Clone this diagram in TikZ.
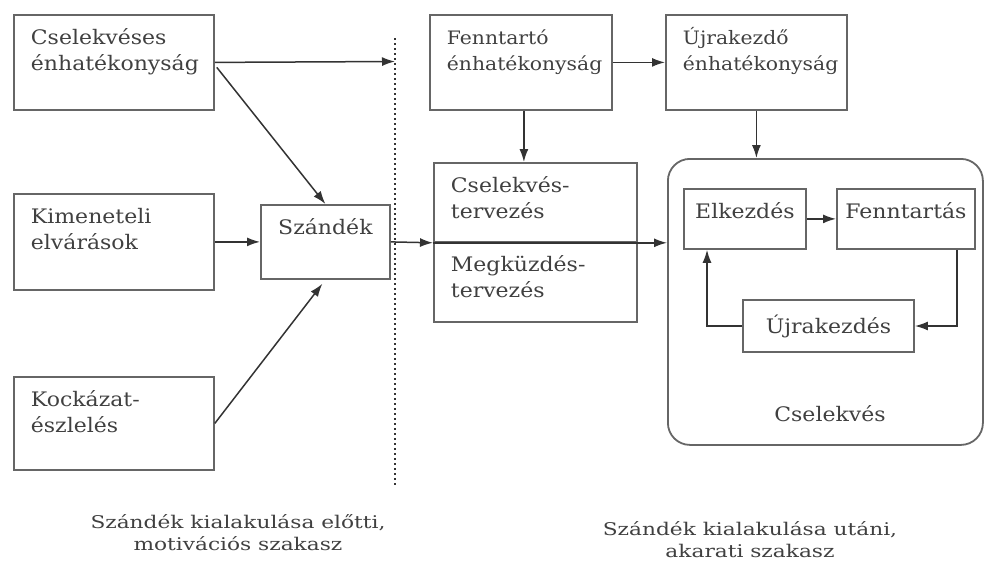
\documentclass[tikz,border=0pt]{standalone}
\usepackage{fontspec}
\setmainfont{DejaVu Serif}[FakeStretch=1.1]
\newfontfamily\captionfont{DejaVu Serif}[FakeStretch=1.24]
\usetikzlibrary{arrows.meta,calc}

\definecolor{ink}{HTML}{404040}
\definecolor{frame}{HTML}{666666}
\definecolor{wire}{HTML}{333333}

% text set at the top of a box of given outer width/height (in pt)
\newcommand\lefttext[3]{\parbox[c][\dimexpr#2pt-20pt\relax][t]{\dimexpr#1pt-34pt\relax}{%
  \raggedright\baselineskip=26pt\rule{0pt}{20pt}#3}}
\newcommand\midtext[3]{\parbox[c][\dimexpr#2pt-20pt\relax][t]{\dimexpr#1pt-8pt\relax}{%
  \centering\baselineskip=26pt\rule{0pt}{20pt}#3}}

\begin{document}
\begin{tikzpicture}[x=1pt,y=-1pt,
  every node/.style={text=ink, font=\fontsize{20}{26}\selectfont},
  lbox/.style={draw=frame, line width=1.8pt, anchor=north west, inner xsep=17pt, inner ysep=10pt},
  nbox/.style={lbox, font=\fontsize{18.5}{26}\selectfont},
  cbox/.style={draw=frame, line width=1.8pt, anchor=north west, inner xsep=4pt, inner ysep=10pt},
  arr/.style={draw=wire, line width=1.5pt, -{Latex[length=13pt,width=9pt]}},
  divider/.style={draw=wire, line width=1.5pt, dash pattern=on 1.5pt off 3.5pt},
  phase/.style={align=center, font=\captionfont\fontsize{17.5}{22}\selectfont}]
\useasboundingbox (0,0) rectangle (984,565);

% motivational phase
\node[lbox] (A) at (13,14)  {\lefttext{200}{95}{Cselekvéses\\énhatékonyság}};
\node[lbox] (B) at (13,193) {\lefttext{200}{96}{Kimeneteli\\elvárások}};
\node[lbox] (C) at (13,376) {\lefttext{200}{93}{Kockázat-\\észlelés}};
\node[cbox] (D) at (260,204) {\midtext{129}{74}{Szándék}};

% phase divider
\coordinate (dtop) at (395,38);
\coordinate (dbot) at (395,488);
\coordinate (dA) at (395,61.5);
\draw[divider] (dtop) -- (dbot);

% volitional phase
\node[nbox] (E) at (429,14)  {\lefttext{182}{95}{Fenntartó\\énhatékonyság}};
\node[nbox] (F) at (665,14)  {\lefttext{181}{95}{Újrakezdő\\énhatékonyság}};
\node[lbox] (G) at (433,162) {\lefttext{203}{79}{Cselekvés-\\tervezés}};
\node[lbox] (H) at (433,241) {\lefttext{203}{80}{Megküzdés-\\tervezés}};

\node[draw=frame, line width=1.8pt, rounded corners=22pt, anchor=north west,
      minimum width=315pt, minimum height=286pt, inner sep=0pt] (I) at (667,158) {};
\node[cbox] (J) at (683,188) {\midtext{122}{60}{Elkezdés}};
\node[cbox] (K) at (836,188) {\midtext{138}{60}{Fenntartás}};
\node[draw=frame, line width=1.8pt, minimum width=171pt, minimum height=52pt,
      inner sep=0pt] (L) at (828.5,326) {Újrakezdés};
\node (Ilabel) at (830,414) {Cselekvés};

% connectors
\coordinate (Es) at ($(E.south)+(3,0)$);
\coordinate (Ad) at ($(A.east)+(2,5)$);
\coordinate (Ks) at ($(K.south east)+(-19,0)$);
\coordinate (Js) at ($(J.south west)+(24,0)$);
\draw[arr] (A.east) -- (dA);
\draw[arr] (Ad) -- (D.north);
\draw[arr] (B.east) -- (D.west);
\draw[arr, shorten >=5pt] (C.east) -- (D.south);
\draw[arr] (D.east) -- (G.south west);
\draw[arr] (G.south west) -- (G.south west -| I.west);
\draw[arr] (E.east) -- (F.west);
\draw[arr] (Es) -- (Es |- G.north);
\draw[arr] (F.south) -- (F.south |- I.north);
\draw[arr] (J.east) -- (K.west);
\draw[arr] (Ks) |- (L.east);
\draw[arr] (L.west) -| (Js);

% phase captions
\node[phase] (p1) at (238,533) {Szándék kialakulása előtti,\\motivációs szakasz};
\node[phase] (p2) at (750,540) {Szándék kialakulása utáni,\\akarati szakasz};
\end{tikzpicture}
\end{document}
